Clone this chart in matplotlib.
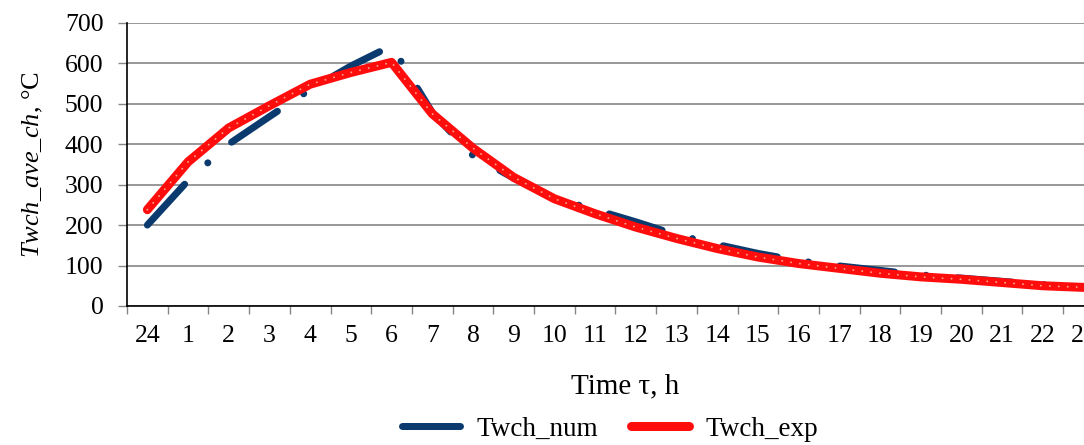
import matplotlib
matplotlib.use("Agg")
import matplotlib.pyplot as plt
from matplotlib.lines import Line2D
import numpy as np

plt.rcParams['font.family'] = ['Liberation Serif', 'DejaVu Serif']
plt.rcParams['mathtext.fontset'] = 'custom'
plt.rcParams['mathtext.it'] = 'Liberation Serif:italic'
plt.rcParams['mathtext.rm'] = 'Liberation Serif'

# hours of the day (category axis)
hours = ['24', '1', '2', '3', '4', '5', '6', '7', '8', '9', '10', '11',
         '12', '13', '14', '15', '16', '17', '18', '19', '20', '21', '22', '23']
twch_num = [200, 310, 400, 468, 535, 593, 643, 478, 372, 316, 266, 238,
            208, 176, 152, 130, 112, 99, 88, 77, 69, 61, 53, 47]
twch_exp = [238, 356, 440, 495, 548, 577, 602, 475, 390, 318, 265, 228,
            195, 167, 142, 121, 105, 93, 81, 72, 66, 58, 50, 46]

blue = '#0b3a6e'
red = '#ff0d0d'
grid_c = '#868686'

fig = plt.figure(figsize=(10.84, 4.45), dpi=100)
ax = fig.add_axes([127 / 1084, 1 - 306 / 445, 1 - 127 / 1084, (306 - 22.7) / 445])

x = np.arange(len(hours))
lw_b = 7 * 72 / 100
lw_r = 9 * 72 / 100
ax.plot(x, twch_num, color=blue, lw=lw_b, dashes=(7.9, 4.5, 0.01, 4.5),
        dash_capstyle='round', solid_capstyle='round', zorder=3)
ax.plot(x, twch_exp, color=red, lw=lw_r, solid_capstyle='round',
        solid_joinstyle='round', zorder=4)
ax.plot(x, twch_exp, color='#f3c9a4', lw=1.4, dashes=(0.01, 4.6),
        dash_capstyle='round', alpha=0.8, zorder=5)

ax.set_ylim(0, 700)
ax.set_yticks(range(0, 701, 100))
ax.set_xticks(x)
ax.set_xticklabels(hours)
ax.set_xticks(np.arange(-0.5, len(hours), 1), minor=True)
# chart is cut at the right edge, as in the original
ax.set_xlim(-0.5, -0.5 + (1084 - 127) / 40.7)

ax.yaxis.grid(True, color=grid_c, lw=1.2)
ax.set_axisbelow(True)
for s in ['top', 'right']:
    ax.spines[s].set_visible(False)
ax.spines['left'].set_color('black')
ax.spines['bottom'].set_color('black')
ax.spines['left'].set_linewidth(1.2)
ax.spines['bottom'].set_linewidth(1.2)

ax.tick_params(axis='y', direction='out', length=6.5, width=1, color=grid_c,
               labelsize=18.5, pad=10.5)
ax.tick_params(axis='x', which='major', length=0, labelsize=18.5, pad=14)
ax.tick_params(axis='x', which='minor', direction='out', length=5.5,
               width=1, color=grid_c)

ax.set_ylabel(r'$\mathit{Twch\_ave\_ch}$, °C', fontsize=19)
ax.yaxis.set_label_coords(-0.086, 0.5)
fig.text(625 / 1084, 1 - 386 / 445, 'Time τ, h', fontsize=21,
         ha='center', va='center')

handles = [Line2D([], [], color=blue, lw=lw_b, solid_capstyle='round'),
           Line2D([], [], color=red, lw=lw_r, solid_capstyle='round')]
fig.legend(handles, ['Twch_num', 'Twch_exp'], loc='center',
           bbox_to_anchor=(610 / 1084, 1 - 429 / 445), ncol=2, frameon=False,
           fontsize=19.5, handlelength=2.15, handletextpad=0.6, columnspacing=1.2)

fig.savefig('out.png', dpi=100)
